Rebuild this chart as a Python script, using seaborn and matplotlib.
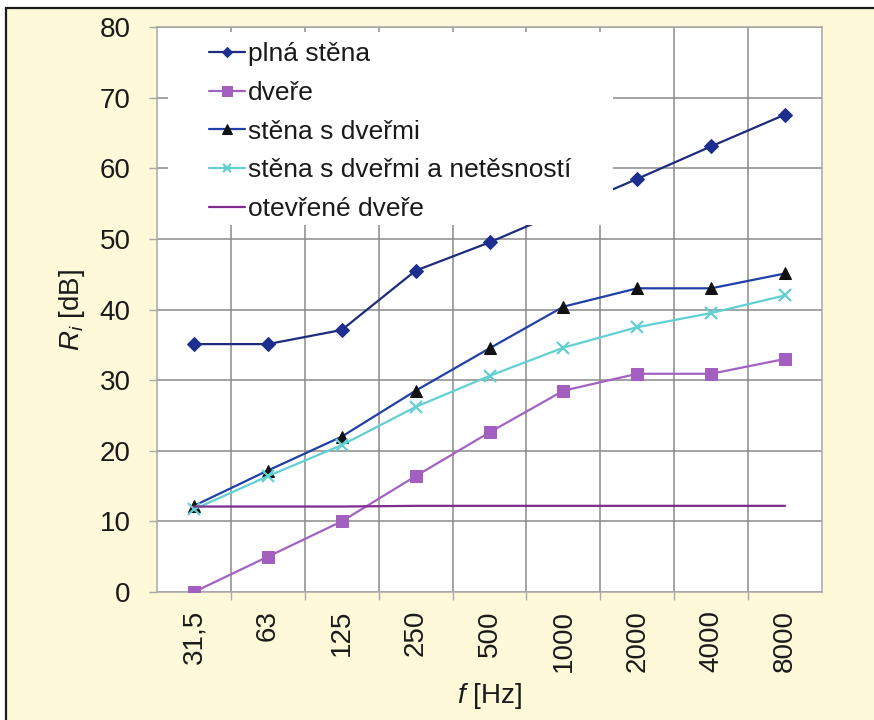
import numpy as np
import pandas as pd
import seaborn as sns
import matplotlib
matplotlib.use("Agg")
import matplotlib.pyplot as plt
from matplotlib.patches import Rectangle
from matplotlib.ticker import FixedLocator, MultipleLocator

# Octave band centre frequencies (Hz)
bands = ["31,5", "63", "125", "250", "500", "1000", "2000", "4000", "8000"]

# Sound reduction index R_i (dB) for each configuration
plna_stena = [35.1, 35.1, 37.1, 45.5, 49.5, 54.0, 58.5, 63.1, 67.6]
dvere = [0.0, 5.0, 10.0, 16.4, 22.6, 28.5, 30.9, 30.9, 33.0]
stena_s_dvermi = [12.2, 17.2, 22.0, 28.5, 34.5, 40.4, 43.0, 43.0, 45.1]
stena_netesnost = [11.7, 16.4, 20.8, 26.2, 30.6, 34.6, 37.5, 39.5, 42.0]
otevrene_dvere = [12.1, 12.1, 12.1, 12.2, 12.2, 12.2, 12.2, 12.2, 12.2]

labels = ["plná stěna", "dveře", "stěna s dveřmi",
          "stěna s dveřmi a netěsností", "otevřené dveře"]

sns.set_theme(style="white")
plt.rcParams["font.family"] = ["Liberation Sans", "DejaVu Sans"]
plt.rcParams["mathtext.fontset"] = "custom"
plt.rcParams["mathtext.rm"] = "Liberation Sans"
plt.rcParams["mathtext.it"] = "Liberation Sans:italic"

W, H = 874, 720
fig = plt.figure(figsize=(W / 100, H / 100), dpi=100, facecolor="white")

# beige panel with a dark frame
fig.patches.append(Rectangle((6 / W, -0.1), 1.2, 1 - 7.5 / H + 0.1,
                             transform=fig.transFigure, facecolor="#FEF9D9",
                             edgecolor="#1a1a1a", linewidth=1.6, zorder=-10))

ax = fig.add_axes([157 / W, (H - 592) / H, 665 / W, 565 / H])
ax.set_facecolor("white")

pos = np.arange(len(bands))
df = pd.DataFrame({
    "pos": pos,
    "plna": plna_stena,
    "dvere": dvere,
    "stena": stena_s_dvermi,
    "netes": stena_netesnost,
    "otevr": otevrene_dvere,
})

styles = [
    ("plna", dict(color="#1E2B7E", marker="D", markersize=7,
                  markerfacecolor="#1C2F8E", markeredgecolor="#1C2F8E")),
    ("dvere", dict(color="#A361C2", marker="s", markersize=9,
                   markerfacecolor="#A35FC0", markeredgecolor="#A35FC0")),
    ("stena", dict(color="#2040A8", marker="^", markersize=8.5,
                   markerfacecolor="#111111", markeredgecolor="#111111")),
    ("netes", dict(color="#62CFD2", marker="x", markersize=8,
                   markeredgewidth=1.6, markeredgecolor="#62CFD2")),
    ("otevr", dict(color="#7E2C90", marker=None)),
]

for (col, kw), lab in zip(styles, labels):
    sns.lineplot(data=df, x="pos", y=col, ax=ax, label=lab, linewidth=1.6,
                 sort=False, zorder=3, **kw)

ax.set_xlim(-0.5, len(bands) - 0.5)
ax.set_ylim(0, 80)
ax.yaxis.set_major_locator(MultipleLocator(10))
ax.set_xticks(pos)
ax.set_xticklabels(bands, rotation=90)
ax.xaxis.set_minor_locator(FixedLocator(pos[:-1] + 0.5))

grid_c = "#8A8A8A"
ax.grid(False)
ax.yaxis.grid(True, which="major", color=grid_c, linewidth=1.1, zorder=1)
ax.xaxis.grid(True, which="minor", color=grid_c, linewidth=1.1, zorder=1)
ax.set_axisbelow(True)
for s in ax.spines.values():
    s.set_color("#A8A8A8")
    s.set_linewidth(1.1)

ax.tick_params(axis="y", which="major", direction="out", length=6, width=1,
               color="#A8A8A8", pad=13, labelsize=20, labelcolor="#1a1a1a",
               left=True)
ax.tick_params(axis="x", which="major", length=0, pad=13, labelsize=20,
               labelcolor="#1a1a1a")
ax.tick_params(axis="x", which="minor", direction="out", length=6, width=1,
               color="#A8A8A8", bottom=True)

ax.set_xlabel(r"$f$ [Hz]", fontsize=20, color="#1a1a1a")
ax.set_ylabel(r"$R_i$ [dB]", fontsize=20, color="#1a1a1a")
ax.xaxis.set_label_coords(0.5, -0.158)
ax.yaxis.set_label_coords(-0.106, 0.5)

# white backing behind the legend, covering grid and lines
ax.add_patch(Rectangle((11 / 665, (592 - 225) / 565), (613 - 168) / 665,
                       (225 - 32) / 565, transform=ax.transAxes,
                       facecolor="white", edgecolor="none", zorder=4))

handles, labs = ax.get_legend_handles_labels()
leg = ax.legend(handles, labs, loc="upper left",
                bbox_to_anchor=((209 - 157) / 665, (592 - 42) / 565),
                frameon=False, fontsize=19, borderpad=0, borderaxespad=0,
                handlelength=1.35, handletextpad=0.12, labelspacing=0.56,
                markerscale=0.8)
leg.set_zorder(5)
for t in leg.get_texts():
    t.set_color("#1a1a1a")

fig.savefig("out.png", dpi=100, facecolor=fig.get_facecolor())
